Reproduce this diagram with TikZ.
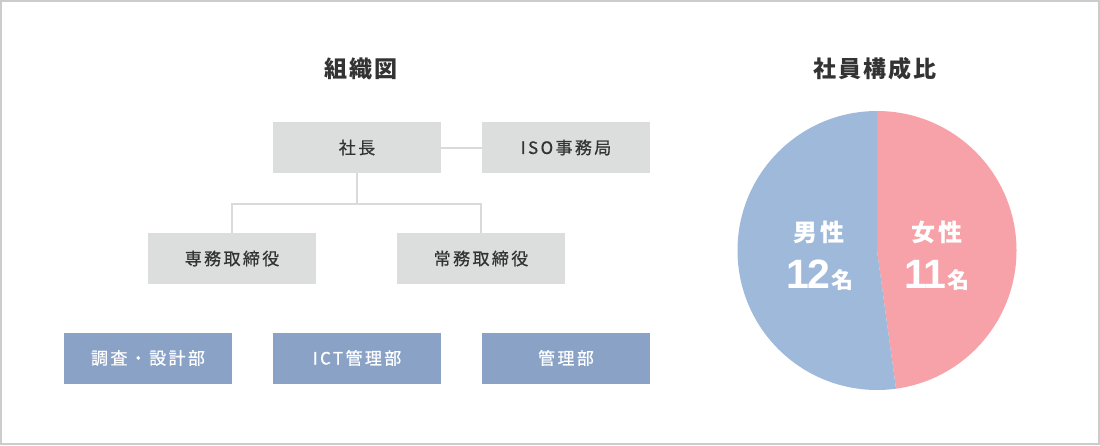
\documentclass[tikz,border=0pt]{standalone}
\usepackage{fontspec}
\setmainfont{Noto Sans CJK JP}
\newfontfamily\digitfont{Liberation Sans}
\usepackage{xcolor}
\usepackage{tikz}
\usetikzlibrary{calc}
\definecolor{boxgray}{HTML}{DCDDDD}
\definecolor{deptblue}{HTML}{8AA2C6}
\definecolor{maleblue}{HTML}{9FB9DA}
\definecolor{femalepink}{HTML}{F7A2A9}
\definecolor{linegray}{HTML}{DADADA}
\definecolor{bordergray}{HTML}{CCCCCC}
\definecolor{textdark}{HTML}{333333}
\tikzset{
	heading/.style={
			text=textdark, inner sep=0pt,
			font=\fontsize{23}{23}\bfseries\selectfont\addfontfeature{LetterSpace=8}
		},
	post/.style={
			fill=boxgray, text=textdark, inner sep=0pt,
			minimum width=168pt, minimum height=51pt,
			font=\fontsize{17}{17}\selectfont\addfontfeature{LetterSpace=14,FakeBold=0.7}
		},
	dept/.style={post, fill=deptblue, text=white},
	link/.style={draw=linegray, line width=2pt},
	share/.style={
			text=white, inner sep=0pt,
			font=\fontsize{24}{24}\bfseries\selectfont\addfontfeature{LetterSpace=16}
		}
}
\newcommand{\headcount}[1]{{\digitfont\fontsize{41}{41}\bfseries\selectfont\addfontfeature{LetterSpace=-4}#1}\hspace{2pt}{\fontsize{22}{22}\selectfont 名}}

\begin{document}
\begin{tikzpicture}[x=1pt,y=-1pt]
		\useasboundingbox (0,0) rectangle (1100,445);
		\draw [bordergray, line width=2pt]	(1,1) rectangle (1099,444);

		\node [heading] (orgtitle) at (361,69) {組織図};
		\node [heading] (ratiotitle) at (875,69) {社員構成比};

		\node [post] (ceo)		at (357,147.5) {社長};
		\node [post] (iso)		at (566,147.5) {ISO事務局};
		\node [post] (senmu)	at (232,258.5) {専務取締役};
		\node [post] (jomu)		at (481,258.5) {常務取締役};

		\node [dept] (survey)	at (148,358) {調査・設計部};
		\node [dept] (ict)		at (357,358) {ICT管理部};
		\node [dept] (admin)	at (566,358) {管理部};

		\coordinate (fork) at (357,204);
		\draw [link]	(ceo) -- (iso);
		\draw [link]	(ceo.south) -- (fork);
		\draw [link]	(senmu.north) |- (fork) -| (jomu.north);

		\coordinate (pie) at (877,250.5);
		\fill [femalepink]	(pie) -- ++(90:139.5pt) arc [start angle=90, end angle=-82.17, radius=139.5pt] -- cycle;
		\fill [maleblue]	(pie) -- ++(90:139.5pt) arc [start angle=90, end angle=277.83, radius=139.5pt] -- cycle;

		\node [share] (male)		at (819,232) {男性};
		\node [share] (malecount)	at (820,275) {\headcount{12}};
		\node [share] (female)		at (937,232) {女性};
		\node [share] (femalecount)	at (937,275) {\headcount{11}};
	\end{tikzpicture}
\end{document}
